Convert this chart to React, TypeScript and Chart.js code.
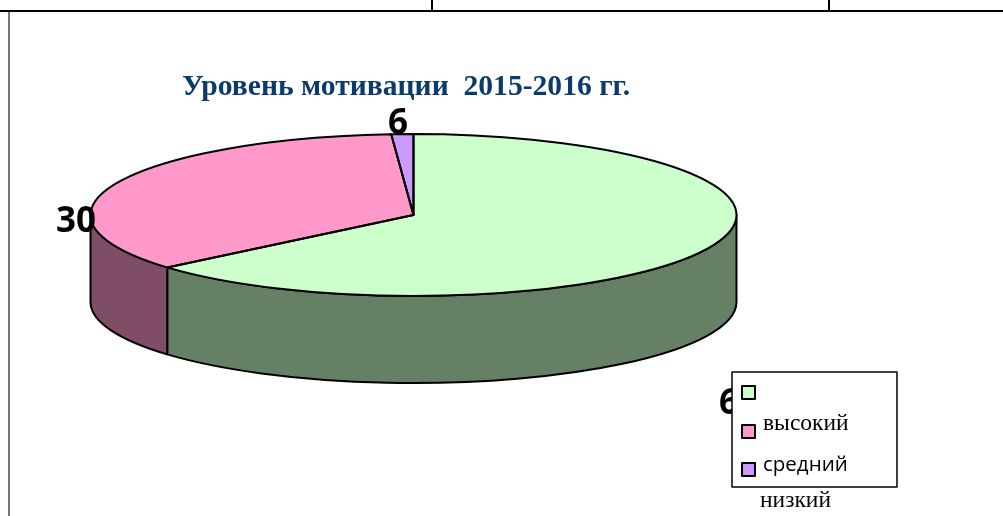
import React, { useEffect, useRef } from "react";
import { Chart, registerables } from "chart.js";

Chart.register(...registerables);

const titleText = "Уровень мотивации  2015-2016 гг.";
const categories = ["высокий", "средний", "низкий"];
const sliceValues = [63.8, 35.1, 1.1];
const valueLabels = ["64", "30", "6"];
const topColors = ["#CCFFCC", "#FF99CC", "#CC99FF"];
const sideColors = ["#668066", "#804D66", "#664D80"];

const PIE = { cx: 413.5, cy: 215, rx: 323, ry: 81, depth: 87 };
const LABEL_POS = [
  { x: 719, y: 414 },
  { x: 56, y: 232 },
  { x: 388, y: 134 },
];
const LEGEND = { x: 732, y: 372, w: 165, h: 115 };
const LEGEND_MARKERS = [386, 425, 463];
const LEGEND_TEXT = [
  { x: 763, y: 430, font: "23.5px 'Liberation Serif'" },
  { x: 763, y: 471, font: "20.5px 'Open Sans'" },
  { x: 760, y: 507, font: "23.5px 'Liberation Serif'" },
];

const pie3d = {
  id: "pie3d",
  beforeDatasetsDraw(chart: any) {
    const ctx = chart.ctx;
    const { cx, cy, rx, ry, depth } = PIE;
    const arcs = chart.getDatasetMeta(0).data;
    arcs.forEach((arc: any, i: number) => {
      const { startAngle, endAngle } = arc.getProps(["startAngle", "endAngle"], true);
      const ranges = [
        [startAngle, endAngle],
        [startAngle + Math.PI * 2, endAngle + Math.PI * 2],
        [startAngle - Math.PI * 2, endAngle - Math.PI * 2],
      ];
      ranges.forEach(([s, e]) => {
        const a = Math.max(s, 0);
        const b = Math.min(e, Math.PI);
        if (b <= a) return;
        ctx.beginPath();
        ctx.ellipse(cx, cy, rx, ry, 0, a, b);
        ctx.ellipse(cx, cy + depth, rx, ry, 0, b, a, true);
        ctx.closePath();
        ctx.fillStyle = sideColors[i];
        ctx.fill();
        ctx.strokeStyle = "#000";
        ctx.lineWidth = 2;
        ctx.lineJoin = "round";
        ctx.stroke();
      });
    });
    const first = arcs[0];
    ctx.save();
    ctx.translate(cx, cy);
    ctx.scale(1, ry / rx);
    ctx.translate(-first.x, -first.y);
  },
  afterDatasetsDraw(chart: any) {
    const ctx = chart.ctx;
    ctx.restore();
    const { cx, cy, rx, ry } = PIE;
    const arcs = chart.getDatasetMeta(0).data;
    ctx.strokeStyle = "#000";
    ctx.lineWidth = 2;
    ctx.lineJoin = "round";
    arcs.forEach((arc: any) => {
      const { startAngle, endAngle } = arc.getProps(["startAngle", "endAngle"], true);
      ctx.beginPath();
      ctx.moveTo(cx, cy);
      ctx.ellipse(cx, cy, rx, ry, 0, startAngle, endAngle);
      ctx.closePath();
      ctx.stroke();
    });
    ctx.fillStyle = "#000";
    ctx.font = "bold 35px 'Open Sans'";
    ctx.textBaseline = "alphabetic";
    ctx.textAlign = "left";
    valueLabels.forEach((t, i) => ctx.fillText(t, LABEL_POS[i].x, LABEL_POS[i].y));
  },
  afterDraw(chart: any) {
    const ctx = chart.ctx;
    ctx.save();
    ctx.fillStyle = "#fff";
    ctx.strokeStyle = "#000";
    ctx.lineWidth = 1.5;
    ctx.fillRect(LEGEND.x, LEGEND.y, LEGEND.w, LEGEND.h);
    ctx.strokeRect(LEGEND.x, LEGEND.y, LEGEND.w, LEGEND.h);
    ctx.lineWidth = 2;
    topColors.forEach((c, i) => {
      ctx.fillStyle = c;
      ctx.fillRect(742, LEGEND_MARKERS[i], 13, 13);
      ctx.strokeRect(742, LEGEND_MARKERS[i], 13, 13);
    });
    ctx.fillStyle = "#000";
    ctx.textBaseline = "alphabetic";
    ctx.textAlign = "left";
    categories.forEach((t, i) => {
      ctx.font = LEGEND_TEXT[i].font;
      ctx.fillText(t, LEGEND_TEXT[i].x, LEGEND_TEXT[i].y);
    });
    ctx.restore();
  },
};

export default function App() {
  const ref = useRef<HTMLCanvasElement>(null);
  useEffect(() => {
    const chart = new Chart(ref.current as HTMLCanvasElement, {
      type: "pie",
      data: {
        labels: categories,
        datasets: [
          {
            data: sliceValues,
            backgroundColor: topColors,
            borderWidth: 0,
            radius: PIE.rx,
            clip: false,
          } as any,
        ],
      },
      options: {
        responsive: false,
        animation: false,
        layout: { padding: { left: 182, right: 358, top: 70, bottom: 60 } },
        plugins: {
          legend: { display: false },
          tooltip: { enabled: false },
          title: {
            display: true,
            text: titleText,
            align: "start",
            fullSize: false,
            color: "#0B3A6E",
            padding: 0,
            font: { family: "'Liberation Serif'", size: 29.6, weight: "bold" },
          },
        },
      },
      plugins: [pie3d],
    } as any);
    return () => chart.destroy();
  }, []);
  const line = (style: React.CSSProperties) => (
    <div style={{ position: "absolute", background: "#000", ...style }} />
  );
  return (
    <div style={{ position: "fixed", left: 0, top: 0, width: 1003, height: 516, overflow: "hidden", background: "#fff" }}>
      <canvas ref={ref} width={1003} height={516} style={{ position: "absolute", left: 0, top: 0, display: "block" }} />
      {line({ left: 0, top: 10, width: 1003, height: 2 })}
      {line({ left: 431, top: 0, width: 2, height: 11 })}
      {line({ left: 828, top: 0, width: 2, height: 11 })}
      {line({ left: 8, top: 12, width: 2, height: 504, background: "#777" })}
    </div>
  );
}
